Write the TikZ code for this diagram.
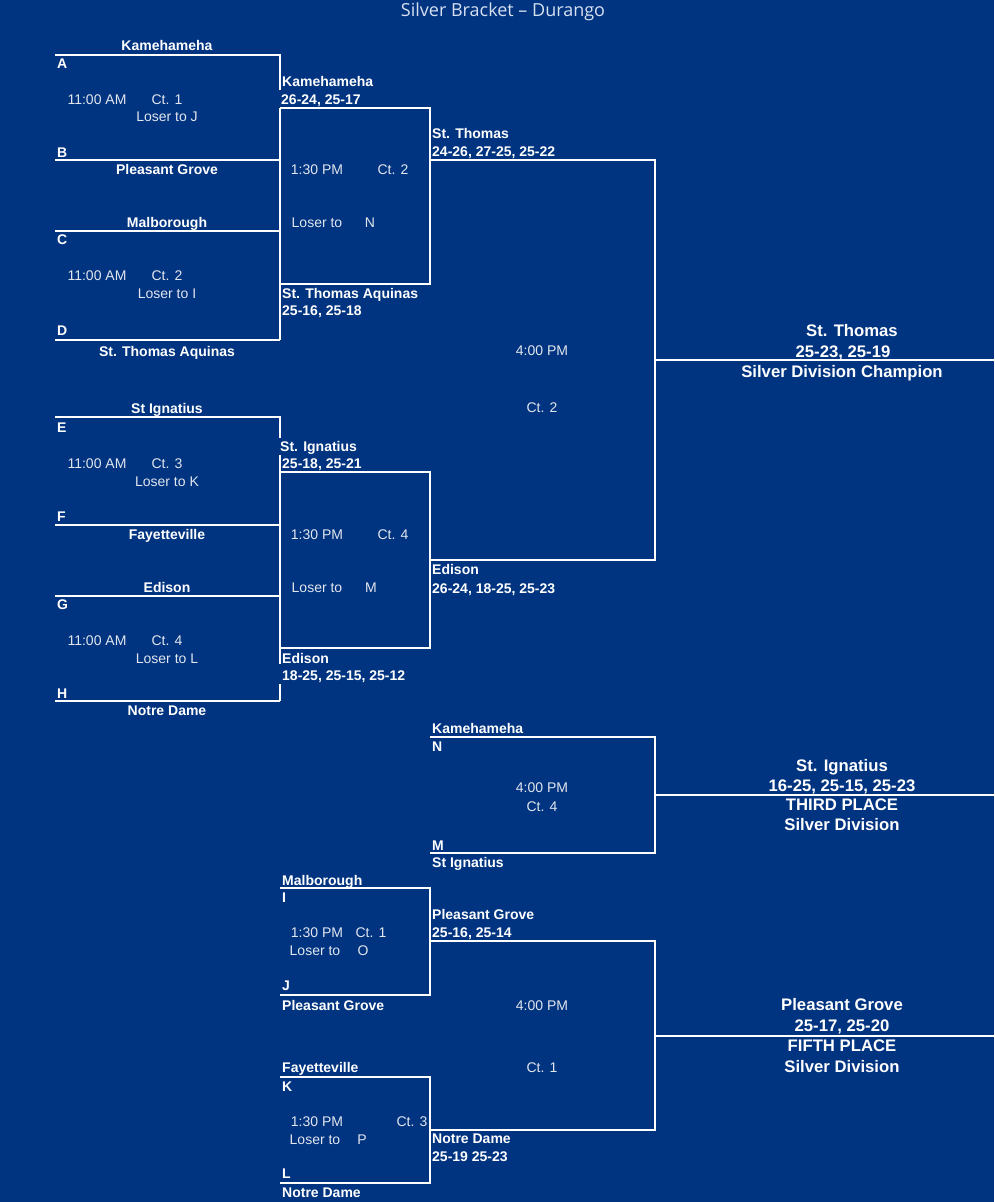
\documentclass[tikz,border=0pt]{standalone}
\usepackage{fontspec}
\setmainfont{Liberation Sans}
\newfontfamily\titlefont{Open Sans}
\definecolor{bg}{RGB}{0,52,128}
\definecolor{reg}{RGB}{226,230,238}
\definecolor{ttl}{RGB}{214,224,240}
\begin{document}
\begin{tikzpicture}[x=1pt,y=-1pt,
  ln/.style={draw=white,line width=2pt},
  bt/.style={inner sep=0pt,text=white,font=\fontsize{14}{16}\selectfont\bfseries,text height=10pt,text depth=0pt},
  btl/.style={bt,anchor=west},
  rt/.style={inner sep=0pt,text=reg,font=\fontsize{14}{16}\selectfont,text height=10pt,text depth=0pt},
  big/.style={inner sep=0pt,text=white,font=\fontsize{16.7}{19}\selectfont\bfseries,text height=12pt,text depth=0pt},
  ttlst/.style={inner sep=0pt,text=ttl,font=\titlefont\fontsize{18}{21}\selectfont,text height=12.9pt,text depth=0pt}]
\fill[bg] (0,0) rectangle (994,1202);
\useasboundingbox (0,0) rectangle (994,1202);

% ---------- lines, upper half ----------
\draw[ln] (55,55) -- (280,55) -- (280,90);
\draw[ln] (280,108) -- (280,340);
\draw[ln] (55,160) -- (280,160);
\draw[ln] (55,231) -- (280,231);
\draw[ln] (55,340) -- (280,340);
\draw[ln] (280,108) -- (430,108) -- (430,284) -- (280,284);
\draw[ln] (430,160) -- (655,160) -- (655,560) -- (430,560);
\draw[ln] (655,360) -- (994,360);
% ---------- lines, lower half ----------
\draw[ln] (55,417) -- (280,417) -- (280,438);
\draw[ln] (280,455) -- (280,664);
\draw[ln] (280,684) -- (280,701);
\draw[ln] (55,525) -- (280,525);
\draw[ln] (55,596) -- (280,596);
\draw[ln] (55,701) -- (280,701);
\draw[ln] (280,472) -- (430,472) -- (430,648) -- (280,648);
% ---------- third place ----------
\draw[ln] (430,737) -- (655,737) -- (655,853) -- (430,853);
\draw[ln] (655,795) -- (994,795);
% ---------- consolation ----------
\draw[ln] (280,888) -- (430,888) -- (430,995) -- (280,995);
\draw[ln] (430,941) -- (655,941) -- (655,1130) -- (430,1130);
\draw[ln] (280,1077) -- (430,1077) -- (430,1183) -- (280,1183);
\draw[ln] (655,1036) -- (994,1036);

% ---------- title ----------
\node[ttlst] (title) at (503,10) {Silver Bracket – Durango};

% ---------- game A/B ----------
\node[bt]  (ab1) at (167,45) {Kamehameha};
\node[btl] (ab2) at (57,63) {A};
\node[rt]  (ab3) at (97,99) {11:00 AM};
\node[rt]  (ab4) at (167,99) {Ct. 1};
\node[rt]  (ab5) at (167,116) {Loser to J};
\node[btl] (ab6) at (57,152) {B};
\node[bt]  (ab7) at (167,169) {Pleasant Grove};
% ---------- game C/D ----------
\node[bt]  (cd1) at (167,222) {Malborough};
\node[btl] (cd2) at (57,239) {C};
\node[rt]  (cd3) at (97,275) {11:00 AM};
\node[rt]  (cd4) at (167,275) {Ct. 2};
\node[rt]  (cd5) at (167,293) {Loser to I};
\node[btl] (cd6) at (57,330) {D};
\node[bt]  (cd7) at (167,351) {St. Thomas Aquinas};
% ---------- second round, top ----------
\node[btl] (s1) at (282,81) {Kamehameha};
\node[btl] (s2) at (281,99) {26-24, 25-17};
\node[rt]  (s3) at (317,169) {1:30 PM};
\node[rt]  (s4) at (393,169) {Ct. 2};
\node[rt]  (s5) at (317,222) {Loser to};
\node[rt]  (s6) at (370,222) {N};
\node[btl] (s7) at (282,293) {St. Thomas Aquinas};
\node[btl] (s8) at (282,310) {25-16, 25-18};
\node[btl] (s9) at (432,133) {St. Thomas};
\node[btl] (s10) at (432,151) {24-26, 27-25, 25-22};
% ---------- final ----------
\node[rt]  (f1) at (542,350) {4:00 PM};
\node[rt]  (f2) at (542,407) {Ct. 2};
\node[big] (c1) at (852,330) {St. Thomas};
\node[big] (c2) at (843,351) {25-23, 25-19};
\node[big] (c3) at (842,371) {Silver Division Champion};
% ---------- game E/F ----------
\node[bt]  (ef1) at (167,408) {St Ignatius};
\node[btl] (ef2) at (57,427) {E};
\node[rt]  (ef3) at (97,463) {11:00 AM};
\node[rt]  (ef4) at (167,463) {Ct. 3};
\node[rt]  (ef5) at (167,481) {Loser to K};
\node[btl] (ef6) at (57,516) {F};
\node[bt]  (ef7) at (167,534) {Fayetteville};
% ---------- game G/H ----------
\node[bt]  (gh1) at (167,587) {Edison};
\node[btl] (gh2) at (57,604) {G};
\node[rt]  (gh3) at (97,640) {11:00 AM};
\node[rt]  (gh4) at (167,640) {Ct. 4};
\node[rt]  (gh5) at (167,658) {Loser to L};
\node[btl] (gh6) at (57,693) {H};
\node[bt]  (gh7) at (167,710) {Notre Dame};
% ---------- second round, bottom ----------
\node[btl] (u1) at (280,446) {St. Ignatius};
\node[btl] (u2) at (282,463) {25-18, 25-21};
\node[rt]  (u3) at (317,534) {1:30 PM};
\node[rt]  (u4) at (393,534) {Ct. 4};
\node[rt]  (u5) at (317,587) {Loser to};
\node[rt]  (u6) at (371,587) {M};
\node[btl] (u7) at (282,658) {Edison};
\node[btl] (u8) at (282,675) {18-25, 25-15, 25-12};
\node[btl] (u9) at (432,569) {Edison};
\node[btl] (u10) at (432,588) {26-24, 18-25, 25-23};
% ---------- third place ----------
\node[btl] (tp1) at (432,728) {Kamehameha};
\node[btl] (tp2) at (432,746) {N};
\node[rt]  (tp3) at (542,787) {4:00 PM};
\node[rt]  (tp4) at (542,806) {Ct. 4};
\node[btl] (tp5) at (432,845) {M};
\node[btl] (tp6) at (432,862) {St Ignatius};
\node[big] (tr1) at (842,765) {St. Ignatius};
\node[big] (tr2) at (842,785) {16-25, 25-15, 25-23};
\node[big] (tr3) at (842,804) {THIRD PLACE};
\node[big] (tr4) at (842,824) {Silver Division};
% ---------- game I/J ----------
\node[btl] (ij1) at (282,880) {Malborough};
\node[btl] (ij2) at (282,897) {I};
\node[rt]  (ij3) at (317,932) {1:30 PM};
\node[rt]  (ij4) at (371,932) {Ct. 1};
\node[rt]  (ij5) at (315,950) {Loser to};
\node[rt]  (ij6) at (363,950) {O};
\node[btl] (ij7) at (282,985) {J};
\node[btl] (ij8) at (282,1005) {Pleasant Grove};
\node[btl] (ij9) at (432,914) {Pleasant Grove};
\node[btl] (ij10) at (432,932) {25-16, 25-14};
% ---------- fifth place ----------
\node[rt]  (fp1) at (542,1005) {4:00 PM};
\node[rt]  (fp2) at (542,1067) {Ct. 1};
\node[big] (fr1) at (842,1004) {Pleasant Grove};
\node[big] (fr2) at (842,1025) {25-17, 25-20};
\node[big] (fr3) at (842,1045) {FIFTH PLACE};
\node[big] (fr4) at (842,1066) {Silver Division};
% ---------- game K/L ----------
\node[btl] (kl1) at (282,1067) {Fayetteville};
\node[btl] (kl2) at (282,1086) {K};
\node[rt]  (kl3) at (317,1121) {1:30 PM};
\node[rt]  (kl4) at (412,1121) {Ct. 3};
\node[rt]  (kl5) at (315,1139) {Loser to};
\node[rt]  (kl6) at (362,1139) {P};
\node[btl] (kl7) at (282,1173) {L};
\node[btl] (kl8) at (282,1192) {Notre Dame};
\node[btl] (kl9) at (432,1138) {Notre Dame};
\node[btl] (kl10) at (432,1156) {25-19 25-23};
\end{tikzpicture}
\end{document}
